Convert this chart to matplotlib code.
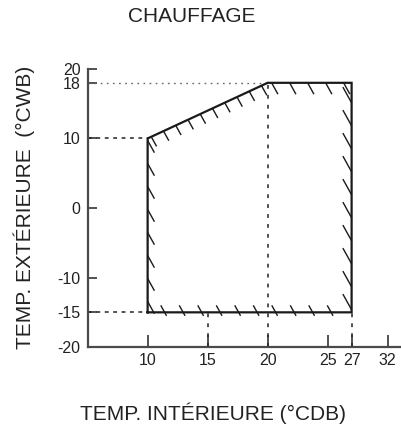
import numpy as np
import matplotlib
matplotlib.use("Agg")
import matplotlib.pyplot as plt
from matplotlib.collections import LineCollection
from matplotlib.transforms import IdentityTransform

plt.rcParams["font.family"] = ["Liberation Sans", "DejaVu Sans"]

# operating zone (indoor DB, outdoor WB)
zone_x = [10, 10, 20, 27, 27, 10]
zone_y = [-15, 10, 18, 18, -15, -15]

# guide lines
h_guides = [(18, 20, ":"), (10, 10, "--"), (-15, 10, "--")]   # y, x end, style
v_guides = [(20, 18), (15, -15), (27, -15)]                   # x, y end

xtick_pos = [10, 15, 20, 25, 27, 30]
xtick_lab = ["10", "15", "20", "25", "27", "32"]
ytick_pos = [-20, -15, -10, 0, 10, 18, 20]
ytick_lab = ["-20", "-15", "-10", "0", "10", "18", "20"]

fig = plt.figure(figsize=(4.02, 4.28), dpi=100)
ax = fig.add_axes([0.218, 0.189, 0.782, 0.650])
ax.set_xlim(5, 31.2)
ax.set_ylim(-20, 20)

for s in ["top", "right"]:
    ax.spines[s].set_visible(False)
for s in ["left", "bottom"]:
    ax.spines[s].set_linewidth(1.6)
    ax.spines[s].set_color("#4a4a4a")

ax.set_xticks(xtick_pos)
ax.set_xticklabels(xtick_lab)
ax.set_yticks(ytick_pos)
ax.set_yticklabels(ytick_lab)
ax.tick_params(axis="x", direction="in", length=8.5, width=1.1, color="#222222",
               labelsize=11.5, pad=4, labelcolor="#222222")
ax.tick_params(axis="y", direction="in", length=6.5, width=1.1, color="#222222",
               labelsize=11.5, pad=5, labelcolor="#222222")

# guide lines
for y, xe, st in h_guides:
    if st == ":":
        ax.plot([5, xe], [y, y], color="#666666", lw=1.0, ls=(0, (1.2, 3.2)))
    else:
        ax.plot([5, xe], [y, y], color="#222222", lw=1.1, ls=(0, (2.5, 3)))
for x, ye in v_guides:
    ax.plot([x, x], [-20, ye], color="#222222", lw=1.1, ls=(0, (2.5, 4)))

# zone outline
ax.plot(zone_x, zone_y, color="#1a1a1a", lw=1.6, solid_joinstyle="miter")


# hatch marks along the edges, drawn in pixel space
def hatch(p0, p1, spacing, start, a, b):
    P0 = ax.transData.transform(p0)
    P1 = ax.transData.transform(p1)
    L = np.hypot(*(P1 - P0))
    u = (P1 - P0) / L
    d = np.array([1.0, -1.8])
    d = d / np.hypot(*d)
    segs = []
    t = start
    while t <= L - 2:
        P = P0 + u * t
        segs.append([P + a * d, P + b * d])
        t += spacing
    lc = LineCollection(segs, colors="#1a1a1a", linewidths=1.0,
                        transform=IdentityTransform(), clip_on=False)
    ax.add_collection(lc, autolim=False)


hatch((10, 10), (10, -15), 23, 2, 0, 14)       # left edge
hatch((10, 10), (20, 18), 13.5, 4, 0, 11)      # sloped top
hatch((20, 18), (27, 18), 18, 4, 0, 13)        # flat top
hatch((27, 18), (27, -15), 23, 20, -18, 0)     # right edge
hatch((10, -15), (27, -15), 18.5, 17, -8, 4)   # bottom edge

fig.text(192 / 402, 1 - 17 / 428, "CHAUFFAGE", ha="center", va="center",
         fontsize=15, color="#222222")
fig.text(213 / 402, 1 - 413 / 428, "TEMP. INTÉRIEURE (°CDB)", ha="center",
         va="center", fontsize=15, color="#222222")
fig.text(24 / 402, 1 - 207 / 428, "TEMP. EXTÉRIEURE  (°CWB)", ha="center",
         va="center", rotation=90, fontsize=15, color="#222222")

fig.savefig("out.png", dpi=100)
